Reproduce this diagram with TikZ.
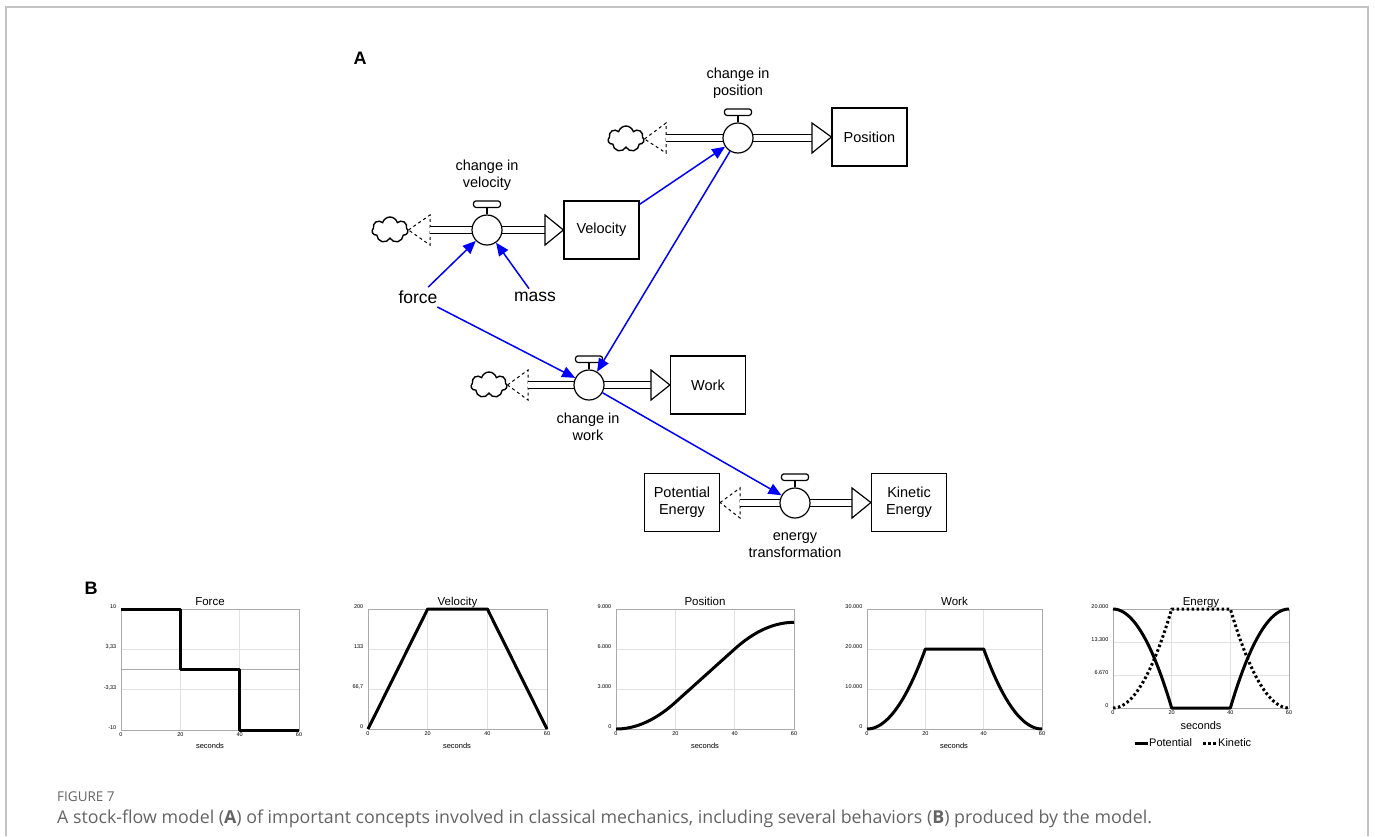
\documentclass[tikz,border=0pt]{standalone}
\usepackage{fontspec}
\setmainfont{Liberation Sans}
\newfontfamily\capfont{Open Sans}
\usetikzlibrary{shapes.symbols,arrows.meta}

\definecolor{framegray}{RGB}{195,195,195}
\definecolor{gridgray}{RGB}{225,225,225}
\definecolor{boxgray}{RGB}{170,170,170}
\definecolor{capgray}{RGB}{100,100,100}
\newcommand{\fsz}[2]{\fontsize{#1}{#2}\selectfont}

\begin{document}
\begin{tikzpicture}[x=1pt,y=-1pt]
\tikzstyle{stock}=[draw, line width=1.2pt, minimum width=75pt, minimum height=58pt, align=center, font=\fsz{14.5}{17}]
\tikzstyle{valve}=[circle, draw, fill=white, line width=1.2pt, minimum size=30pt, inner sep=0pt]
\tikzstyle{handle}=[draw, fill=white, line width=1.2pt, rounded corners=2.5pt]
\tikzstyle{sky}=[cloud, draw, cloud puffs=7, aspect=1.4, minimum width=36pt, minimum height=26pt, inner sep=0pt, line width=1.4pt]
\tikzstyle{pipe}=[line width=1.2pt, double distance=6.5pt]
\tikzstyle{flowlabel}=[align=center, font=\fsz{14.5}{17}]
\tikzstyle{aux}=[font=\fsz{17.5}{20}]
\tikzstyle{link}=[blue, line width=1.5pt, -{Triangle[length=13pt,width=11pt]}]
\tikzstyle{panel}=[font=\bfseries\fsz{18}{20}]
\tikzstyle{ticklbl}=[font=\fsz{5.5}{6}, inner sep=0.5pt]
\tikzstyle{charttitle}=[font=\fsz{11.5}{13}, inner sep=0pt]
\tikzstyle{trace}=[line width=3pt, line join=round]
\tikzstyle{dots}=[trace, dash pattern=on 2.5pt off 2.5pt]

\useasboundingbox (0,0) rectangle (1375,836);
\draw[framegray, line width=1.3pt] (6,836) -- (6,7) -- (1368,7) -- (1368,836);

% panel A: stock-flow model
\node[panel] (labA) at (360,58) {A};

\node[stock] (Velocity) at (601.5,230) {Velocity};
\node[stock] (Position) at (869.5,137) {Position};
\node[stock] (Work) at (708,385) {Work};
\node[stock] (PotEnergy) at (682,502.5) {Potential\\Energy};
\node[stock] (Kinetic) at (909,502.5) {Kinetic\\Energy};

\node[sky] (cvel) at (390,230) {};
\node[sky] (cpos) at (626,139) {};
\node[sky] (cwork) at (489,385) {};

\foreach \src/\b/\c/\y/\s in {cvel/430/545/230/Velocity, cpos/666/812/138/Position, cwork/528/651/385/Work, PotEnergy/740/852/503/Kinetic}{
  \draw[dashed, line width=1pt] (\src.east) -- (\b,\y-15) -- (\b,\y+15) -- cycle;
  \draw[pipe] (\b,\y) -- (\c,\y);
  \draw[line width=1.2pt, fill=white] (\c,\y-15) -- (\s.west) -- (\c,\y+15) -- cycle;
}

\node[valve] (vvel) at (487,230) {};
\node[valve] (vpos) at (738,138) {};
\node[valve] (vwork) at (589,385) {};
\node[valve] (vener) at (795,503) {};
\foreach \v in {vvel,vpos,vwork,vener}{
  \draw[line width=1.3pt] (\v.north) -- ++(0,-7);
  \draw[handle] ([shift={(-13.5,-7)}]\v.north) rectangle ++(27,-6.5);
}

\node[flowlabel] (lvel) at (487,175) {change in\\velocity};
\node[flowlabel] (lpos) at (738,83) {change in\\position};
\node[flowlabel] (lwork) at (588,427) {change in\\work};
\node[flowlabel] (lener) at (795,545) {energy\\transformation};

\node[aux] (force) at (418,297) {force};
\node[aux] (mass) at (535,297) {mass};

\draw[link] (force) -- (vvel);
\draw[link] (mass) -- (vvel);
\draw[link] (Velocity) -- (vpos);
\draw[link] (vpos) -- (vwork);
\draw[link] (force) -- (vwork);
\draw[link] (vwork) -- (vener);

% panel B: behaviour over time
\node[panel] (labB) at (91,588) {B};

\foreach \cx/\cy/\cw/\ch/\ttl/\la/\lb/\lc/\ld in {121/730/178/121/Force/{-10}/{-3,33}/{3,33}/10, 368/729/179/120/Velocity/0/{66,7}/133/200, 616/729/178/120/Position/0/{3.000}/{6.000}/{9.000}, 867/729/175/120/Work/0/{10.000}/{20.000}/{30.000}, 1113/708/176/99/Energy/0/{6.670}/{13.300}/{20.000}}{
  \begin{scope}[shift={(\cx,\cy)}, x={\cw/60*1pt}, y={\ch/3*1pt}]
    \foreach \g in {1,2} \draw[gridgray, line width=0.9pt] (0,\g) -- (60,\g);
    \foreach \g in {20,40} \draw[gridgray, line width=0.9pt] (\g,0) -- (\g,3);
    \draw[boxgray, line width=1pt] (0,0) rectangle (60,3);
    \foreach \t in {0,20,40,60} \node[ticklbl, anchor=north] at (\t,0) [yshift=-2pt] {\t};
    \node[ticklbl, anchor=east] at (0,0) [xshift=-4pt, yshift=2pt] {\la};
    \node[ticklbl, anchor=east] at (0,1) [xshift=-4pt, yshift=2pt] {\lb};
    \node[ticklbl, anchor=east] at (0,2) [xshift=-4pt, yshift=2pt] {\lc};
    \node[ticklbl, anchor=east] at (0,3) [xshift=-4pt, yshift=2pt] {\ld};
    \node[charttitle, anchor=base] (\ttl-title) at (30,3) [yshift=4pt] {\ttl};
  \end{scope}
}

\begin{scope}[shift={(121,730)}, x={178/60*1pt}, y={121/3*1pt}]
  \draw[boxgray, line width=1pt] (0,1.5) -- (60,1.5);
  \draw[trace] (0,3) -- (20,3) -- (20,1.5) -- (40,1.5) -- (40,0) -- (60,0);
\end{scope}
\begin{scope}[shift={(368,729)}, x={179/60*1pt}, y={120/3*1pt}]
  \draw[trace] (0,0) -- (20,3) -- (40,3) -- (60,0);
\end{scope}
\begin{scope}[shift={(616,729)}, x={178/60*1pt}, y={120/3*1pt}]
  \draw[trace] plot[domain=0:20, samples=30] (\x,{5*\x*\x/3000}) -- (40,2)
    -- plot[domain=40:60, samples=30] (\x,{(6000+200*(\x-40)-5*(\x-40)^2)/3000});
\end{scope}
\begin{scope}[shift={(867,729)}, x={175/60*1pt}, y={120/3*1pt}]
  \draw[trace] plot[domain=0:20, samples=30] (\x,{\x*\x/200}) -- (40,2)
    -- plot[domain=40:60, samples=30] (\x,{(60-\x)^2/200});
\end{scope}
\begin{scope}[shift={(1113,708)}, x={176/60*1pt}, y={99/3*1pt}]
  \draw[trace] plot[domain=0:20, samples=30] (\x,{3-3*\x*\x/400}) -- (40,0)
    -- plot[domain=40:60, samples=30] (\x,{3-3*(60-\x)^2/400});
  \draw[dots] plot[domain=0:20, samples=30] (\x,{3*\x*\x/400}) -- (40,3)
    -- plot[domain=40:60, samples=30] (\x,{3*(60-\x)^2/400});
\end{scope}

\foreach \sx in {210,457,705,954}
  \node[font=\fsz{7.5}{9}] (sec\sx) at (\sx,746) {seconds};
\node[font=\fsz{11}{13}] (secE) at (1201,726) {seconds};
\draw[trace] (1135,743) -- (1148,743);
\node[font=\fsz{11}{13}, anchor=west, inner sep=1pt] (legP) at (1148,743) {Potential};
\draw[dots] (1203,743) -- (1217,743);
\node[font=\fsz{11}{13}, anchor=west, inner sep=1pt] (legK) at (1217,743) {Kinetic};

% caption
\node[anchor=west, inner sep=0pt, text=capgray, font=\capfont\fsz{13.5}{15}] (figno) at (57,797) {FIGURE 7};
\node[anchor=west, inner sep=0pt, text=capgray, font=\capfont\fsz{17.8}{20}] (caption) at (57,819)
  {A stock-flow model (\textbf{A}) of important concepts involved in classical mechanics, including several behaviors (\textbf{B}) produced by the model.};
\end{tikzpicture}
\end{document}
